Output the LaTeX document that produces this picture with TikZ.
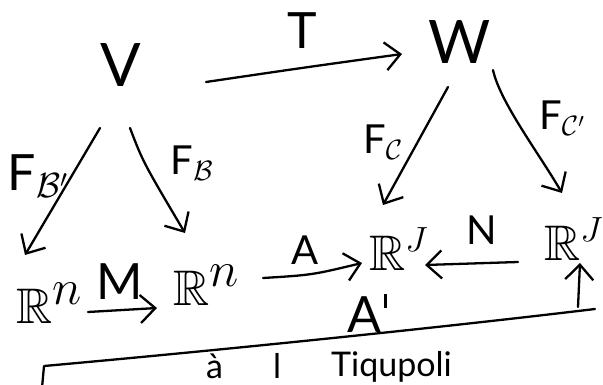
\RequirePackage{fix-cm}
\documentclass[tikz,border=0pt]{standalone}
\usepackage{amssymb}
\usepackage{fontspec}
\setmainfont{Lato}
\usetikzlibrary{arrows.meta,calc}
\newcommand{\tick}{\hspace{3pt}\rule[24pt]{2.2pt}{14pt}}
\begin{document}
\begin{tikzpicture}[x=1pt,y=-1pt, line width=2.3pt, line cap=round, line join=round,
  arr/.style={-{Straight Barb[length=15pt,width=28pt]}},
  obj/.style={inner sep=0pt, font=\fontsize{60}{60}\selectfont},
  sp/.style={inner sep=0pt, anchor=base west, font=\fontsize{50}{50}\selectfont},
  lbl/.style={inner sep=0pt, font=\fontsize{40}{40}\selectfont},
  big/.style={inner sep=0pt, font=\fontsize{50}{50}\selectfont},
  foot/.style={inner sep=0pt, anchor=base west, font=\fontsize{34}{34}\selectfont}]
\useasboundingbox (0,0) rectangle (603,385);
\clip (0,0) rectangle (603,385);
% objects
\node[obj] (V) at (121,65) {V};
\node[obj] (W) at (460,42) {W};
\node[sp] (Rn1) at (15,323) {$\mathbb{R}^{\textstyle n}$};
\node[sp] (Rn2) at (172,305) {$\mathbb{R}^{\textstyle n}$};
\node[sp] (RJ1) at (368,270) {$\mathbb{R}^{J}$};
\node[sp] (RJ2) at (543,260) {$\mathbb{R}^{J}$};
% labels
\node[big] (lT) at (302,31) {T};
\node[big] (lFB1) at (38,176) {F$_{\mathcal{B}'}$};
\node[lbl] (lFB) at (192,163) {F$_{\mathcal{B}}$};
\node[lbl] (lFC) at (383,142) {F$_{\mathcal{C}}$};
\node[lbl] (lFC1) at (562,118) {F$_{\mathcal{C}'}$};
\node[big] (lM) at (120,282) {M};
\node[lbl] (lA) at (305,250) {A};
\node[lbl] (lN) at (482,230) {N};
\node[big] (lA1) at (367,313) {A\tick};
% arrows
\draw[arr] ($(V)+(85,17)$) .. controls ($(V)+(180,3)$) .. ($(W)+(-58,12)$);
\draw[arr] ($(V)+(-21,63)$) -- ($(Rn1.base west)+(10,-68)$);
\draw[arr] ($(V)+(9,63)$) .. controls ($(V)+(22,97)$) .. ($(Rn2.base west)+(13,-72)$);
\draw[arr] ($(W)+(-12,45)$) -- ($(RJ1.base west)+(15,-65)$);
\draw[arr] ($(W)+(33,28)$) .. controls ($(W)+(40,60)$) and ($(W)+(78,110)$) .. ($(RJ2.base west)+(19,-67)$);
\draw[arr] ($(Rn1.base west)+(73,-11)$) -- ($(Rn2.base west)+(-15,3)$);
\draw[arr] ($(Rn2.base west)+(91,-27)$) .. controls ($(Rn2.base west)+(140,-30)$) .. ($(RJ1.base west)+(-6,-7)$);
\draw[arr] ($(RJ2.base west)+(-25,2)$) -- ($(RJ1.base west)+(57,-5)$);
% A' long arrow
\coordinate (a0) at (42,388);
\coordinate (a1) at (44,366);
\coordinate (corner) at (595,309);
\coordinate (foot) at (578,307);
\draw (a0) -- (a1) .. controls (200,352) and (420,330) .. (corner);
\draw[arr] (foot) -- ($(RJ2.base west)+(37,3)$);
% handwriting at the bottom
\node[foot] (t1) at (205,378) {à};
\node[foot] (t2) at (272,378) {l};
\node[foot] (t3) at (330,376) {Tiqupoli};
\end{tikzpicture}
\end{document}
